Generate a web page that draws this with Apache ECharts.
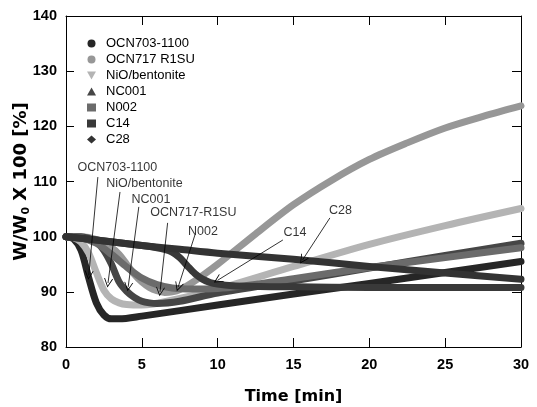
<!DOCTYPE html>
<html>
<head>
<meta charset="utf-8">
<script src="https://cdn.jsdelivr.net/npm/echarts@6/dist/echarts.min.js"></script>
<style>
  html, body { margin: 0; padding: 0; background: #fff; }
  #chart { width: 537px; height: 407px; }
</style>
</head>
<body>
<div id="chart"></div>
<script>
// time [min] / W/W0 x 100 [%]
const tOCN703 = [0, 0.5, 1, 1.5, 2, 2.5, 3, 3.5, 5, 10, 15, 20, 25, 30];
const yOCN703 = [100, 99.6, 97.5, 92.5, 88, 85.8, 85.1, 85.1, 85.6, 87.6, 89.6, 91.5, 93.5, 95.5];

const tOCN717 = [0, 1, 2, 3, 3.5, 4, 4.5, 5, 5.5, 6, 6.5, 7, 7.5, 8.5, 10, 12.5, 15, 17.5, 20, 22.5, 25, 27.5, 30];
const yOCN717 = [100, 100, 99.5, 98, 96.8, 95, 93.2, 91.8, 90.8, 90.2, 89.9, 90, 90.4, 92, 95, 100.5, 105.8, 110.2, 114, 117, 119.7, 121.8, 123.7];

const tNiO = [0, 0.5, 1, 1.5, 2, 2.5, 3, 3.5, 4, 5, 7.5, 10, 15, 20, 25, 30];
const yNiO = [100, 99.8, 99, 97, 93.5, 90.3, 88.7, 88, 87.7, 87.6, 88.8, 90.5, 94.6, 98.6, 102, 105.1];

const tNC001 = [0, 1, 2, 2.5, 3, 3.5, 4, 4.5, 5, 5.5, 6, 7.5, 10, 15, 20, 25, 30];
const yNC001 = [100, 100, 99, 97.5, 95, 91.8, 90.1, 89, 88.3, 88, 87.9, 88.3, 89.8, 92, 94.3, 96.6, 98.8];

const tN002 = [0, 1, 2, 3, 4, 5, 6, 7, 8, 10, 15, 20, 25, 30];
const yN002 = [100, 99.8, 98.8, 96.8, 94.5, 92.5, 91.3, 90.7, 90.5, 90.6, 92.4, 94.4, 96.2, 98];

const tC14 = [0, 2, 5, 6, 6.5, 7, 7.5, 8, 8.5, 9, 9.5, 10, 11, 12, 15, 20, 25, 30];
const yC14 = [100, 99.4, 98.4, 98, 97.7, 97.2, 96.2, 94.7, 93.3, 92.3, 91.7, 91.4, 91.1, 91, 90.9, 90.8, 90.8, 90.8];

const tC28 = [0, 2, 5, 7.5, 10, 15, 20, 25, 30];
const yC28 = [100, 99.4, 98.4, 97.7, 97, 95.9, 94.6, 93.4, 92.3];

const xTicks = [0, 5, 10, 15, 20, 25, 30];
const yTicks = [80, 90, 100, 110, 120, 130, 140];

// label text, text centre (t, y), arrow start (t, y), arrow tip (t, y)
const notes = [
  ['OCN703-1100', 3.39, 112.6, 2.1, 110.8, 1.5, 93],
  ['NiO/bentonite', 5.17, 109.7, 3.56, 108.1, 2.77, 91.6],
  ['NC001', 5.6, 106.8, 4.8, 105.4, 4.1, 90.9],
  ['OCN717-R1SU', 8.4, 104.3, 6.7, 102.5, 6.2, 90],
  ['N002', 9.03, 101.0, 8.5, 100.3, 7.4, 90.9],
  ['C14', 15.1, 100.7, 14.3, 99.4, 10.0, 92.1],
  ['C28', 18.1, 104.7, 17.4, 103.4, 15.6, 95.8]
];

const zip = (t, y) => t.map((v, i) => [v, y[i]]);

const curves = [
  {name: 'OCN703-1100', t: tOCN703, y: yOCN703, color: '#262626', icon: 'circle'},
  {name: 'OCN717 R1SU', t: tOCN717, y: yOCN717, color: '#979797', icon: 'circle'},
  {name: 'NiO/bentonite', t: tNiO, y: yNiO, color: '#b4b4b4', icon: 'path://M0,0 L10,0 L5,9 Z'},
  {name: 'NC001', t: tNC001, y: yNC001, color: '#464646', icon: 'triangle'},
  {name: 'N002', t: tN002, y: yN002, color: '#6b6b6b', icon: 'rect'},
  {name: 'C14', t: tC14, y: yC14, color: '#393939', icon: 'rect'},
  {name: 'C28', t: tC28, y: yC28, color: '#333333', icon: 'diamond'}
];

const arial = "'Liberation Sans', Arial, sans-serif";
const verdana = "'DejaVu Sans', Verdana, sans-serif";
const chevron = 'path://M0,10 L5,0 L10,10 L9,10 L5,2 L1,10 Z';

const series = curves.map(c => ({
  name: c.name,
  type: 'line',
  data: zip(c.t, c.y),
  smooth: 0.3,
  showSymbol: false,
  symbol: c.icon,
  color: c.color,
  lineStyle: {width: 7, color: c.color, cap: 'round', join: 'round'},
  emphasis: {disabled: true},
  animation: false
}));

series.push({
  name: 'notes',
  type: 'scatter',
  symbolSize: 0,
  data: notes.map(n => ({value: [n[1], n[2]], name: n[0]})),
  label: {
    show: true,
    position: 'inside',
    formatter: p => p.name,
    fontFamily: arial,
    fontSize: 12.5,
    color: '#000'
  },
  markLine: {
    silent: true,
    symbol: ['none', chevron],
    symbolSize: 9,
    label: {show: false},
    lineStyle: {color: '#000', width: 0.8, type: 'solid'},
    data: notes.map(n => [{coord: [n[3], n[4]]}, {coord: [n[5], n[6]]}]),
    animation: false
  },
  silent: true,
  animation: false,
  z: 5
});

const boldNum = {
  fontFamily: arial,
  fontWeight: 700,
  fontSize: 14.5,
  color: '#000'
};

const chart = echarts.init(document.getElementById('chart'));
chart.setOption({
  backgroundColor: '#fff',
  animation: false,
  grid: {left: 66, right: 16, top: 16, bottom: 60, containLabel: false, outerBoundsMode: 'none'},
  legend: {
    orient: 'vertical',
    left: 82,
    top: 32,
    itemWidth: 9,
    itemHeight: 8,
    itemGap: 3,
    data: curves.map(c => ({name: c.name, icon: c.icon})),
    textStyle: {fontFamily: arial, fontSize: 13, color: '#000', lineHeight: 13, padding: [0, 0, 0, 5]}
  },
  xAxis: [{
    type: 'value',
    min: xTicks[0],
    max: xTicks[xTicks.length - 1],
    interval: 5,
    name: 'Time [min]',
    nameLocation: 'middle',
    nameGap: 42,
    nameMoveOverlap: false,
    nameTextStyle: {fontFamily: verdana, fontWeight: 'bold', fontSize: 16, color: '#000'},
    axisLine: {show: true, onZero: false, lineStyle: {color: '#000', width: 1}},
    axisTick: {show: true, inside: true, length: 9, lineStyle: {color: '#000'}},
    axisLabel: Object.assign({margin: 10}, boldNum),
    splitLine: {show: false}
  }, {
    type: 'value',
    position: 'top',
    min: xTicks[0],
    max: xTicks[xTicks.length - 1],
    interval: 5,
    axisLine: {show: true, onZero: false, lineStyle: {color: '#000', width: 1}},
    axisTick: {show: true, inside: true, length: 9, lineStyle: {color: '#000'}},
    axisLabel: {show: false},
    splitLine: {show: false}
  }],
  yAxis: [{
    type: 'value',
    min: yTicks[0],
    max: yTicks[yTicks.length - 1],
    interval: 10,
    name: '{a|W/W}{s|0}{a| X 100 [%]}',
    nameLocation: 'middle',
    nameRotate: 90,
    nameGap: 34,
    nameMoveOverlap: false,
    nameTextStyle: {
      rich: {
        a: {fontFamily: verdana, fontWeight: 'bold', fontSize: 18, color: '#000'},
        s: {fontFamily: verdana, fontWeight: 'bold', fontSize: 11, color: '#000', padding: [10, 0, 0, 0]}
      }
    },
    axisLine: {show: true, onZero: false, lineStyle: {color: '#000', width: 1}},
    axisTick: {show: true, inside: true, length: 8, lineStyle: {color: '#000'}},
    axisLabel: Object.assign({margin: 9}, boldNum),
    splitLine: {show: false}
  }, {
    type: 'value',
    position: 'right',
    min: yTicks[0],
    max: yTicks[yTicks.length - 1],
    interval: 10,
    axisLine: {show: true, onZero: false, lineStyle: {color: '#000', width: 1}},
    axisTick: {show: true, inside: true, length: 9, lineStyle: {color: '#000'}},
    axisLabel: {show: false},
    splitLine: {show: false}
  }],
  series: series
});
</script>
</body>
</html>
